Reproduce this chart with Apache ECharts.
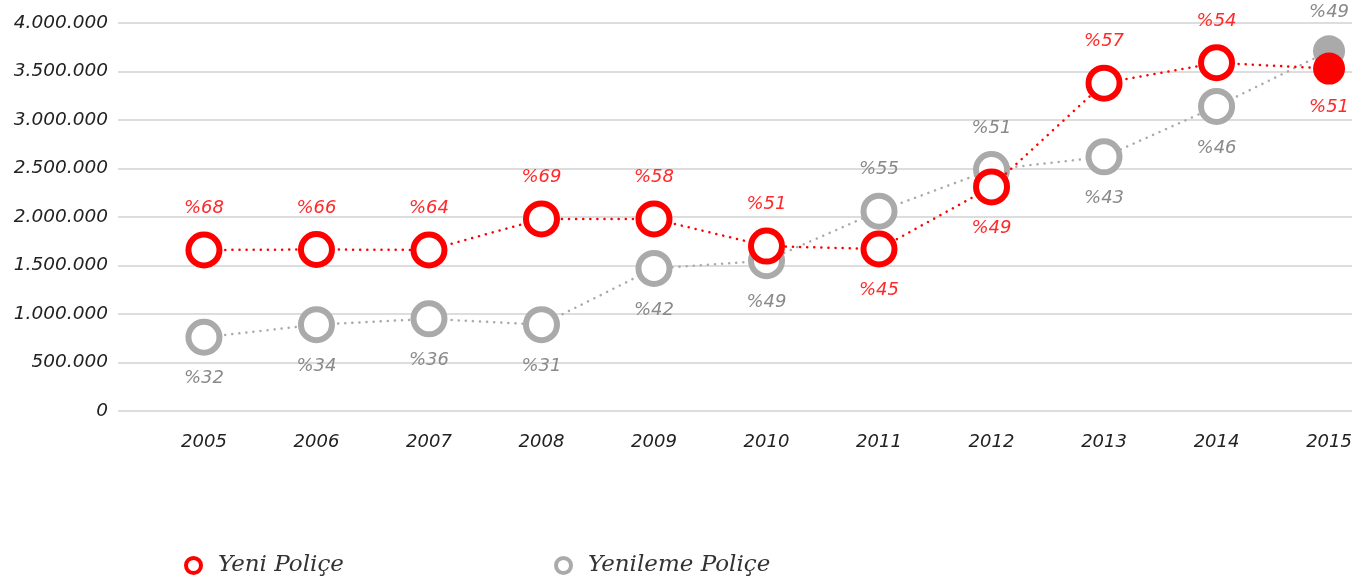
<!DOCTYPE html>
<html><head><meta charset="utf-8">
<script src="https://cdn.jsdelivr.net/npm/echarts@6/dist/echarts.min.js"></script>
<style>html,body{margin:0;padding:0;background:#fff}#c{width:1367px;height:583px}</style>
</head><body><div id="c"></div>
<script>
var years = [2005, 2006, 2007, 2008, 2009, 2010, 2011, 2012, 2013, 2014, 2015];
var yeniValues = [1660000, 1665000, 1660000, 1980000, 1980000, 1700000, 1670000, 2310000, 3380000, 3590000, 3530000];
var yenilemeValues = [760000, 890000, 950000, 890000, 1470000, 1550000, 2060000, 2490000, 2620000, 3140000, 3710000];
var yeniPct = [68, 66, 64, 69, 58, 51, 45, 49, 57, 54, 51];
var yenilemePct = [32, 34, 36, 31, 42, 49, 55, 51, 43, 46, 49];
var yTicks = [0, 500000, 1000000, 1500000, 2000000, 2500000, 3000000, 3500000, 4000000];
var seriesNames = ['Yeni Poliçe', 'Yenileme Poliçe'];

var RED = '#ff0000', GRAY = '#aaaaaa';
var numFont = 'DejaVu Sans';
var last = years.length - 1;

function fmt(v) { return String(v).replace(/\B(?=(\d{3})+(?!\d))/g, '.'); }

function buildData(vals, other, pcts, color, labelColor) {
  return vals.map(function (v, i) {
    var above = v >= other[i];
    var d = {
      value: [years[i], v],
      label: { position: above ? 'top' : 'bottom', formatter: '%' + pcts[i], color: labelColor }
    };
    if (i === last) {
      d.symbolSize = 32;
      d.itemStyle = { color: color, borderWidth: 0 };
    }
    return d;
  });
}

function mkSeries(name, vals, other, pcts, color, labelColor, z) {
  return {
    name: name, type: 'line', z: z,
    data: buildData(vals, other, pcts, color, labelColor),
    symbol: 'circle', symbolSize: 31,
    itemStyle: { color: '#fff', borderColor: color, borderWidth: 6 },
    lineStyle: { color: color, width: 2.5, type: [0.1, 7], cap: 'round' },
    label: { show: true, distance: 14, fontFamily: numFont, fontWeight: 200, fontStyle: 'italic', fontSize: 18 },
    emphasis: { disabled: true },
    animation: false
  };
}

var chart = echarts.init(document.getElementById('c'));
chart.setOption({
  animation: false,
  grid: { left: 118, right: 15, top: 23, bottom: 172 },
  xAxis: {
    type: 'value', min: 2004.236, max: 2015.204,
    axisLine: { show: false }, axisTick: { show: false }, splitLine: { show: false },
    axisLabel: {
      customValues: years, margin: 22,
      fontFamily: numFont, fontWeight: 200, fontStyle: 'italic', fontSize: 18, color: '#222',
      formatter: function (v) { return String(v); }
    }
  },
  yAxis: {
    type: 'value', min: 0, max: 4000000, interval: 500000,
    axisLine: { show: false }, axisTick: { show: false },
    splitLine: { lineStyle: { color: '#dddddd', width: 2 } },
    axisLabel: {
      margin: 10, fontFamily: numFont, fontWeight: 200, fontStyle: 'italic', fontSize: 18.5, color: '#222',
      formatter: function (v) { return fmt(v); }
    }
  },
  legend: [
    { data: [seriesNames[0]], left: 179, top: 549 },
    { data: [seriesNames[1]], left: 549, top: 549 }
  ].map(function (l) {
    l.icon = 'circle'; l.itemWidth = 15; l.itemHeight = 15; l.itemGap = 10;
    l.textStyle = { fontFamily: 'DejaVu Serif', fontStyle: 'italic', fontSize: 23, color: '#333', padding: [0, 0, 0, 12] };
    l.selectedMode = false;
    l.itemStyle = { color: '#fff', borderWidth: 4 };
    return l;
  }),
  series: [
    mkSeries(seriesNames[1], yenilemeValues, yeniValues, yenilemePct, GRAY, '#8a8a8a', 2),
    mkSeries(seriesNames[0], yeniValues, yenilemeValues, yeniPct, RED, '#ff2a2a', 3)
  ]
});
</script></body></html>
